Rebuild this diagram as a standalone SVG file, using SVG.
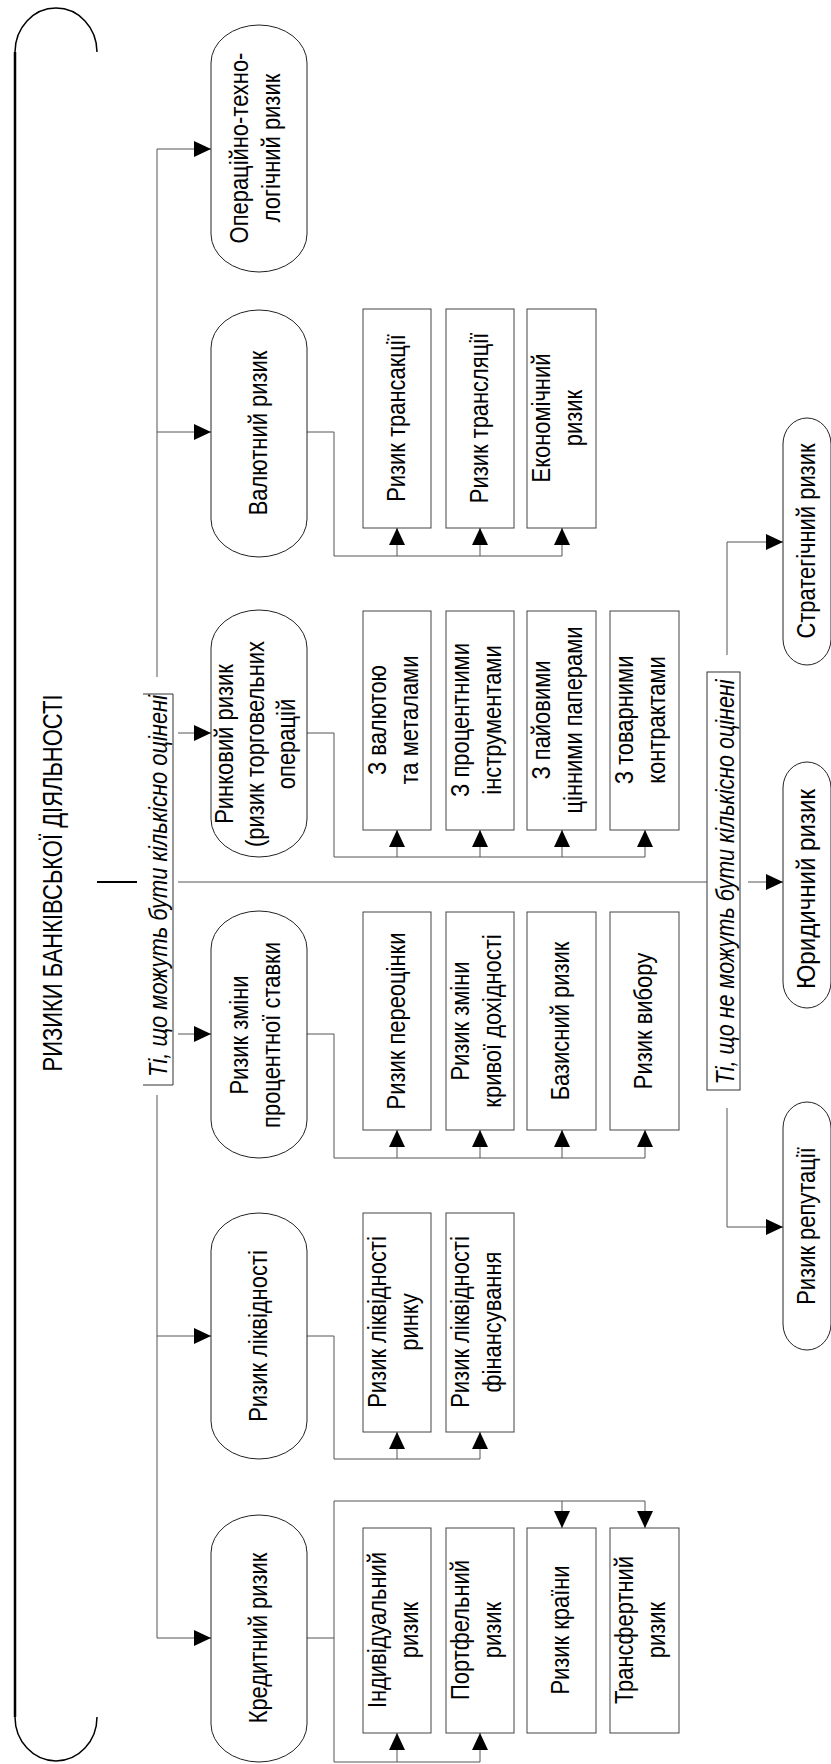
<svg xmlns="http://www.w3.org/2000/svg" width="831" height="1764" viewBox="0 0 831 1764">
<style>
.node{fill:#fff;stroke:#222;stroke-width:1}
.box{fill:#fff;stroke:#444;stroke-width:1}
.conn{fill:none;stroke:#555;stroke-width:1}
.arr{fill:none;stroke:#555;stroke-width:1;marker-end:url(#ah)}
.thick{fill:none;stroke:#000;stroke-width:2.5}
.t{font-family:"Liberation Sans",Arial,sans-serif;font-size:25.5px;fill:#000;text-anchor:middle}
.it{font-style:italic}
</style>
<defs>
<marker id="ah" markerUnits="userSpaceOnUse" markerWidth="17" markerHeight="16" refX="17" refY="8" orient="auto">
<path d="M0,0 L17,8 L0,16 z" fill="#000"/>
</marker>
</defs>
<rect x="0" y="0" width="831" height="1764" fill="#fff"/>

<g id="title">
<path class="thick" d="M15,52 V1717"/>
<path fill="none" stroke="#000" stroke-width="1.5" d="M15,52 A41,44 0 0 1 97,52"/>
<path fill="none" stroke="#000" stroke-width="1.5" d="M15,1717 A41,44 0 0 0 97,1717"/>
<text class="t" style="font-size:28px" transform="translate(62,883) rotate(-90)" textLength="377" lengthAdjust="spacingAndGlyphs">РИЗИКИ БАНКІВСЬКОЇ ДІЯЛЬНОСТІ</text>
</g>

<g id="label-quant">
<path fill="none" stroke="#333" stroke-width="1" d="M143,694 H173 V1085 H143"/>
<text class="t it" transform="translate(167,886) rotate(-90)" textLength="382" lengthAdjust="spacingAndGlyphs">Ті, що можуть бути кількісно оцінені</text>
</g>

<g id="label-nonquant">
<rect x="707" y="672" width="33" height="418" fill="#fff" stroke="#333" stroke-width="1"/>
<text class="t it" transform="translate(734,882) rotate(-90)" textLength="405" lengthAdjust="spacingAndGlyphs">Ті, що не можуть бути кількісно оцінені</text>
</g>

<g id="connectors">
<path class="thick" style="stroke-width:2" d="M97,882 H137"/>
<path class="conn" d="M157,149 V677 M157,1095 V1638"/>
<path class="arr" d="M157,149 H211"/>
<path class="arr" d="M157,432 H211"/>
<path class="arr" d="M178,733 H211"/>
<path class="arr" d="M178,1034 H211"/>
<path class="arr" d="M157,1336 H211"/>
<path class="arr" d="M157,1638 H211"/>
<path class="conn" d="M178,882 H707"/>
<path class="arr" d="M748,882 H783"/>
<path class="arr" d="M727,655 V542 H783"/>
<path class="arr" d="M727,1108 V1227 H783"/>
<path class="conn" d="M307,432 H334 V556 H562"/>
<path class="arr" d="M397,556 V528"/>
<path class="arr" d="M480,556 V528"/>
<path class="arr" d="M562,556 V528"/>
<path class="conn" d="M307,733 H334 V857 H645"/>
<path class="arr" d="M397,857 V830"/>
<path class="arr" d="M480,857 V830"/>
<path class="arr" d="M562,857 V830"/>
<path class="arr" d="M645,857 V830"/>
<path class="conn" d="M307,1034 H334 V1158 H645"/>
<path class="arr" d="M397,1158 V1130"/>
<path class="arr" d="M480,1158 V1130"/>
<path class="arr" d="M562,1158 V1130"/>
<path class="arr" d="M645,1158 V1130"/>
<path class="conn" d="M307,1336 H334 V1459 H480"/>
<path class="arr" d="M397,1459 V1432"/>
<path class="arr" d="M480,1459 V1432"/>
<path class="conn" d="M307,1638 H334 M334,1501 V1762 M334,1501 H645 M334,1762 H480"/>
<path class="arr" d="M562,1501 V1528"/>
<path class="arr" d="M645,1501 V1528"/>
<path class="arr" d="M397,1762 V1733"/>
<path class="arr" d="M480,1762 V1733"/>
</g>

<g id="n-oper">
<rect class="node" x="211" y="25" width="96" height="247" rx="48" ry="38"/>
<text class="t" transform="translate(259,148) rotate(-90) scale(0.86,1)"><tspan x="0" y="-11">Операційно-техно-</tspan><tspan x="0" y="21">логічний ризик</tspan></text>
</g>
<g id="n-val">
<rect class="node" x="211" y="310" width="96" height="247" rx="48" ry="38"/>
<text class="t" transform="translate(259,433) rotate(-90) scale(0.86,1)"><tspan x="0" y="8">Валютний ризик</tspan></text>
</g>
<g id="n-market">
<rect class="node" x="211" y="610" width="96" height="247" rx="48" ry="38"/>
<text class="t" transform="translate(259,744) rotate(-90) scale(0.86,1)"><tspan x="0" y="-26">Ринковий ризик</tspan><tspan x="0" y="5">(ризик торговельних</tspan><tspan x="0" y="36">операцій</tspan></text>
</g>
<g id="n-rate">
<rect class="node" x="211" y="911" width="96" height="247" rx="48" ry="38"/>
<text class="t" transform="translate(259,1035) rotate(-90) scale(0.86,1)"><tspan x="0" y="-11">Ризик зміни</tspan><tspan x="0" y="21">процентної ставки</tspan></text>
</g>
<g id="n-liq">
<rect class="node" x="211" y="1213" width="96" height="246" rx="48" ry="38"/>
<text class="t" transform="translate(259,1336) rotate(-90) scale(0.86,1)"><tspan x="0" y="8">Ризик ліквідності</tspan></text>
</g>
<g id="n-credit">
<rect class="node" x="211" y="1515" width="96" height="247" rx="48" ry="38"/>
<text class="t" transform="translate(259,1638) rotate(-90) scale(0.86,1)"><tspan x="0" y="8">Кредитний ризик</tspan></text>
</g>

<g id="n-strat">
<rect class="node" x="783" y="418" width="48" height="247" rx="24" ry="26"/>
<text class="t" transform="translate(807,541) rotate(-90) scale(0.86,1)"><tspan x="0" y="8">Стратегічний ризик</tspan></text>
</g>
<g id="n-legal">
<rect class="node" x="783" y="762" width="48" height="246" rx="24" ry="26"/>
<text class="t" transform="translate(807,889) rotate(-90)" textLength="200" lengthAdjust="spacingAndGlyphs"><tspan x="0" y="8" textLength="200" lengthAdjust="spacingAndGlyphs">Юридичний ризик</tspan></text>
</g>
<g id="n-rep">
<rect class="node" x="783" y="1102" width="48" height="248" rx="24" ry="26"/>
<text class="t" transform="translate(807,1226) rotate(-90) scale(0.86,1)"><tspan x="0" y="8">Ризик репутації</tspan></text>
</g>

<g id="b-trans">
<rect class="box" x="363" y="309" width="68" height="219"/>
<text class="t" transform="translate(397,418) rotate(-90) scale(0.86,1)"><tspan x="0" y="8">Ризик трансакції</tspan></text>
</g>
<g id="b-transl">
<rect class="box" x="446" y="309" width="68" height="219"/>
<text class="t" transform="translate(480,418) rotate(-90) scale(0.86,1)"><tspan x="0" y="8">Ризик трансляції</tspan></text>
</g>
<g id="b-econ">
<rect class="box" x="527" y="309" width="69" height="219"/>
<text class="t" transform="translate(561,418) rotate(-90) scale(0.86,1)"><tspan x="0" y="-11">Економічний</tspan><tspan x="0" y="21">ризик</tspan></text>
</g>

<g id="b-fx">
<rect class="box" x="363" y="611" width="68" height="219"/>
<text class="t" transform="translate(397,720) rotate(-90) scale(0.86,1)"><tspan x="0" y="-11">З валютою</tspan><tspan x="0" y="21">та металами</tspan></text>
</g>
<g id="b-ir">
<rect class="box" x="446" y="611" width="68" height="219"/>
<text class="t" transform="translate(480,720) rotate(-90) scale(0.86,1)"><tspan x="0" y="-11">З процентними</tspan><tspan x="0" y="21">інструментами</tspan></text>
</g>
<g id="b-eq">
<rect class="box" x="527" y="611" width="69" height="219"/>
<text class="t" transform="translate(561,720) rotate(-90) scale(0.86,1)"><tspan x="0" y="-11">З пайовими</tspan><tspan x="0" y="21">цінними паперами</tspan></text>
</g>
<g id="b-comm">
<rect class="box" x="610" y="611" width="69" height="219"/>
<text class="t" transform="translate(644,720) rotate(-90) scale(0.86,1)"><tspan x="0" y="-11">З товарними</tspan><tspan x="0" y="21">контрактами</tspan></text>
</g>

<g id="b-reprice">
<rect class="box" x="363" y="912" width="68" height="218"/>
<text class="t" transform="translate(397,1021) rotate(-90) scale(0.86,1)"><tspan x="0" y="8">Ризик переоцінки</tspan></text>
</g>
<g id="b-curve">
<rect class="box" x="446" y="912" width="68" height="218"/>
<text class="t" transform="translate(480,1021) rotate(-90) scale(0.86,1)"><tspan x="0" y="-11">Ризик зміни</tspan><tspan x="0" y="21">кривої дохідності</tspan></text>
</g>
<g id="b-basis">
<rect class="box" x="527" y="912" width="69" height="218"/>
<text class="t" transform="translate(561,1021) rotate(-90) scale(0.86,1)"><tspan x="0" y="8">Базисний ризик</tspan></text>
</g>
<g id="b-option">
<rect class="box" x="610" y="912" width="69" height="218"/>
<text class="t" transform="translate(644,1021) rotate(-90) scale(0.86,1)"><tspan x="0" y="8">Ризик вибору</tspan></text>
</g>

<g id="b-mliq">
<rect class="box" x="363" y="1213" width="68" height="219"/>
<text class="t" transform="translate(397,1322) rotate(-90) scale(0.86,1)"><tspan x="0" y="-11">Ризик ліквідності</tspan><tspan x="0" y="21">ринку</tspan></text>
</g>
<g id="b-fliq">
<rect class="box" x="446" y="1213" width="68" height="219"/>
<text class="t" transform="translate(480,1322) rotate(-90) scale(0.86,1)"><tspan x="0" y="-11">Ризик ліквідності</tspan><tspan x="0" y="21">фінансування</tspan></text>
</g>

<g id="b-indiv">
<rect class="box" x="363" y="1528" width="68" height="205"/>
<text class="t" transform="translate(397,1630) rotate(-90) scale(0.86,1)"><tspan x="0" y="-11">Індивідуальний</tspan><tspan x="0" y="21">ризик</tspan></text>
</g>
<g id="b-portf">
<rect class="box" x="446" y="1528" width="68" height="205"/>
<text class="t" transform="translate(480,1630) rotate(-90) scale(0.86,1)"><tspan x="0" y="-11">Портфельний</tspan><tspan x="0" y="21">ризик</tspan></text>
</g>
<g id="b-country">
<rect class="box" x="527" y="1528" width="69" height="205"/>
<text class="t" transform="translate(561,1630) rotate(-90) scale(0.86,1)"><tspan x="0" y="8">Ризик країни</tspan></text>
</g>
<g id="b-transfer">
<rect class="box" x="610" y="1528" width="69" height="205"/>
<text class="t" transform="translate(644,1630) rotate(-90) scale(0.86,1)"><tspan x="0" y="-11">Трансфертний</tspan><tspan x="0" y="21">ризик</tspan></text>
</g>
</svg>
